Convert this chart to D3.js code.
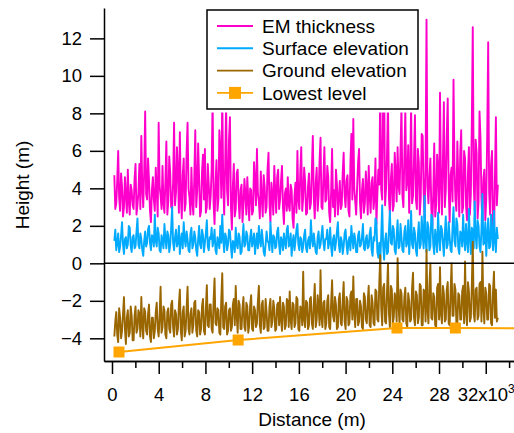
<!DOCTYPE html>
<meta charset="utf-8">
<style>
body { margin: 0; background: #fff; }
text { font-family: "Liberation Sans", Arial, sans-serif; font-size: 19px; fill: #000; }
.axis path, .axis line { stroke: #000; stroke-width: 1.5px; }
.axis text { font-size: 18.5px; }
</style>
<body>
<script src="https://d3js.org/d3.v7.min.js"></script>
<script>

// profile samples: first distance and spacing (m)
var distStart = 200, distStep = 82.5;

var emThickness = [
  4.7, 2.9, 3.2, 4.4, 6.0, 3.5, 2.8, 4.8, 4.1, 2.5, 3.0, 4.6, 3.6, 2.7, 5.0, 3.3, 2.6, 4.2, 3.9, 3.1,
  2.9, 4.5, 5.3, 2.6, 3.1, 3.8, 5.3, 2.9, 6.8, 4.0, 3.0, 4.9, 8.1, 3.7, 3.4, 5.6, 4.4, 2.8, 2.2, 3.9,
  4.6, 3.4, 2.8, 5.1, 3.9, 2.5, 7.5, 4.1, 3.6, 2.9, 5.2, 3.2, 2.7, 4.4, 6.5, 2.6, 3.3, 5.7, 4.8, 3.0,
  2.9, 4.3, 7.5, 3.1, 3.8, 6.2, 4.9, 2.7, 7.0, 3.6, 2.4, 4.7, 5.6, 2.8, 3.2, 5.9, 7.5, 4.0, 3.5, 2.6,
  5.1, 3.3, 2.6, 4.6, 7.1, 3.0, 3.9, 6.4, 4.5, 2.5, 2.8, 4.9, 5.8, 3.4, 6.1, 2.7, 3.0, 5.3, 4.2, 2.9,
  3.6, 5.0, 8.8, 3.2, 2.1, 4.2, 5.5, 2.8, 3.4, 7.1, 6.0, 3.5, 9.0, 4.4, 2.6, 5.2, 8.6, 3.9, 3.1, 6.6,
  7.8, 3.0, 1.8, 4.1, 5.3, 2.5, 2.9, 4.8, 5.0, 3.3, 2.4, 3.9, 4.2, 2.2, 3.1, 4.5, 3.7, 2.6, 4.6, 3.4,
  2.3, 4.0, 3.9, 2.6, 2.8, 5.4, 4.4, 3.1, 6.1, 3.7, 3.3, 2.4, 4.9, 3.5, 2.5, 4.7, 4.1, 2.7, 3.0, 5.0,
  5.9, 3.2, 2.2, 4.3, 3.6, 2.6, 5.2, 3.8, 2.7, 4.6, 5.0, 2.9, 3.4, 4.4, 5.2, 3.0, 2.1, 3.7, 4.0, 2.8,
  4.6, 3.1, 2.8, 4.2, 3.9, 2.4, 1.9, 3.6, 4.3, 2.7, 6.0, 3.4, 2.9, 4.9, 6.2, 2.8, 3.5, 5.1, 4.4, 2.6,
  2.7, 4.1, 4.8, 2.9, 3.2, 5.0, 6.8, 3.5, 2.4, 4.3, 5.1, 2.8, 3.6, 5.5, 6.7, 3.0, 2.9, 4.6, 6.2, 3.3,
  3.4, 5.2, 4.6, 2.7, 2.2, 3.8, 6.1, 3.0, 3.9, 2.5, 5.0, 4.2, 2.6, 3.5, 4.4, 2.9, 3.1, 4.8, 5.9, 3.6,
  3.0, 4.4, 4.7, 2.8, 2.5, 5.3, 6.9, 3.4, 7.7, 4.0, 3.3, 2.6, 4.1, 5.4, 6.1, 3.2, 2.4, 3.9, 4.5, 2.7,
  3.2, 4.9, 4.0, 2.6, 5.2, 3.6, 2.7, 4.3, 4.6, 2.9, 3.5, 5.6, 2.1, 3.7, 5.0, 4.2, 9.6, 3.9, 3.4, 8.9,
  9.9, 3.1, 4.0, 5.8, 8.7, 3.5, 2.6, 4.5, 5.3, 2.8, 3.1, 5.9, 4.8, 3.3, 6.2, 4.1, 3.7, 6.0, 8.4, 3.6,
  3.0, 5.7, 8.2, 3.9, 4.4, 6.3, 2.7, 4.6, 8.5, 3.2, 3.6, 5.5, 7.9, 3.4, 2.9, 6.1, 5.4, 2.6, 3.5, 6.9,
  6.8, 3.8, 2.4, 5.0, 13.0, 4.1, 3.2, 4.6, 5.6, 2.9, 2.0, 3.7, 6.4, 2.5, 3.1, 5.8, 4.9, 2.7, 9.1, 4.3,
  2.6, 5.4, 8.6, 3.0, 3.9, 6.8, 8.8, 4.0, 2.2, 4.7, 5.1, 3.3, 9.8, 5.2, 3.4, 2.8, 6.5, 4.4, 2.5, 5.9,
  7.1, 2.7, 3.0, 6.0, 5.6, 3.1, 2.3, 4.8, 6.2, 2.6, 3.7, 7.4, 12.6, 4.2, 2.8, 6.6, 5.9, 2.4, 3.3, 8.1,
  6.7, 3.5, 2.1, 4.5, 5.0, 2.3, 3.4, 6.9, 11.8, 3.8, 2.6, 5.3, 6.0, 2.0, 1.2, 4.6, 7.8, 3.1, 4.2
];

var surfaceElev = [
  1.2, 1.8, 0.7, 1.1, 1.6, 0.6, 0.9, 1.5, 2.2, 1.0, 0.5, 1.3, 1.4, 0.8, 1.0, 2.0, 1.9, 0.9, 0.6, 1.4,
  1.5, 0.8, 0.9, 1.7, 2.4, 1.0, 0.8, 1.6, 1.3, 0.7, 0.4, 1.2, 1.7, 0.9, 1.1, 1.8, 2.0, 1.1, 0.7, 1.5,
  1.4, 0.9, 2.6, 1.2, 0.9, 1.9, 1.6, 0.7, 0.6, 1.5, 1.2, 0.8, 2.1, 1.3, 0.8, 1.7, 1.5, 0.6, 1.0, 1.9,
  3.0, 1.1, 0.7, 1.4, 1.8, 0.9, 1.1, 2.0, 0.5, 1.2, 1.6, 0.8, 2.2, 1.3, 0.9, 1.7, 1.3, 0.7, 0.6, 1.6,
  1.9, 0.8, 1.0, 1.7, 1.4, 0.7, 0.4, 1.3, 2.0, 1.0, 0.8, 1.8, 1.5, 0.6, 1.1, 1.6, 2.3, 0.9, 0.7, 1.4,
  1.3, 1.9, 0.9, 1.2, 1.8, 0.7, 0.5, 1.4, 1.2, 0.8, 2.0, 1.1, 2.6, 1.3, 0.6, 1.6, 1.4, 0.7, 1.0, 1.8,
  1.7, 0.9, 0.3, 1.2, 1.1, 0.6, 1.9, 1.0, 0.8, 1.6, 1.4, 0.5, 0.6, 1.3, 2.1, 0.9, 1.0, 1.7, 1.5, 0.7,
  0.7, 1.4, 1.8, 0.9, 1.2, 1.6, 0.5, 1.1, 1.6, 0.8, 2.0, 1.2, 0.9, 1.8, 1.3, 0.6, 0.4, 1.0, 1.7, 1.2,
  1.1, 0.7, 2.2, 1.3, 0.6, 1.5, 1.4, 0.8, 0.9, 1.7, 1.9, 1.0, 0.5, 1.4, 1.2, 0.7, 1.6, 1.1, 0.8, 1.8,
  2.0, 0.9, 1.0, 1.6, 0.4, 1.1, 1.5, 0.7, 1.2, 1.8, 2.1, 1.0, 0.7, 1.4, 1.3, 0.6, 0.9, 1.5, 1.8, 0.8,
  0.6, 1.2, 1.4, 0.8, 2.3, 1.3, 0.9, 1.6, 1.1, 0.6, 0.5, 1.4, 1.7, 0.8, 1.0, 1.5, 2.0, 1.1, 0.7, 1.3,
  1.3, 1.8, 0.8, 1.1, 1.9, 0.9, 0.4, 1.3, 1.5, 0.7, 1.1, 1.7, 2.2, 1.0, 0.6, 1.4, 1.2, 0.5, 0.9, 1.6,
  1.8, 1.0, 0.5, 1.2, 1.4, 0.7, 2.0, 1.3, 0.8, 1.6, 1.3, 0.6, 0.6, 1.5, 1.7, 0.9, 1.0, 1.4, 2.1, 0.8,
  0.7, 1.3, 1.5, 0.8, 0.9, 1.6, 1.9, 0.7, 0.4, 1.4, 1.2, 2.4, 2.2, 0.6, 0.3, 1.1, 0.1, 1.5, 3.1, 0.9,
  0.2, 1.2, 1.6, 0.5, 0.6, 1.8, 2.8, 1.1, 1.0, 2.0, 1.8, 0.7, 0.5, 1.5, 2.3, 0.8, 0.9, 2.1, 1.4, 0.7,
  0.6, 1.7, 2.0, 0.9, 1.1, 2.3, 0.5, 1.4, 2.8, 1.0, 0.8, 1.9, 1.6, 0.7, 0.4, 1.5, 2.2, 0.8, 1.0, 2.5,
  1.5, 0.8, 3.6, 1.2, 0.6, 2.2, 1.9, 0.7, 0.9, 2.6, 2.4, 1.0, 0.5, 1.8, 1.3, 0.6, 2.7, 1.4, 0.7, 2.0,
  1.8, 1.1, 0.4, 1.6, 2.5, 0.8, 1.0, 2.2, 1.4, 0.7, 0.6, 1.9, 3.0, 1.2, 0.9, 2.4, 2.1, 0.8, 0.5, 1.7,
  1.6, 0.9, 2.6, 1.3, 0.7, 2.1, 1.2, 0.6, 2.9, 1.4, 0.5, 1.9, 1.7, 0.8, 3.3, 1.5, 0.8, 2.3, 2.0, 0.9,
  0.6, 1.8, 3.7, 1.0, 1.1, 2.2, 0.4, 1.5, 2.4, 0.8, 0.9, 2.6, 1.5, 0.7, 2.8, 1.2, 0.6, 1.9, 1.3
];

var groundElev = [
  -3.9, -3.1, -2.6, -3.8, -4.2, -2.4, -2.9, -4.0, -3.6, -2.7, -1.8, -3.5, -4.3, -2.9, -2.5, -3.9, -3.7, -2.3, -2.8, -4.1,
  -4.1, -2.8, -2.3, -3.7, -3.5, -2.5, -2.7, -3.9, -1.8, -3.3, -4.0, -2.4, -2.6, -3.6, -3.8, -2.7, -2.2, -3.9, -4.2, -2.9,
  -2.9, -4.0, -3.6, -2.6, -2.1, -3.5, -3.9, -2.8, -1.25, -3.7, -3.4, -2.3, -2.5, -3.8, -4.0, -2.6, -2.4, -3.5, -3.7, -2.2,
  -2.0, -3.4, -3.9, -2.5, -2.7, -3.8, -3.5, -2.2, -1.4, -3.6, -4.1, -2.6, -2.3, -3.9, -3.6, -2.4, -1.25, -3.5, -3.8, -2.7,
  -2.4, -3.7, -3.3, -2.1, -2.0, -3.6, -3.9, -2.5, -2.6, -3.8, -3.5, -2.3, -1.9, -3.6, -3.8, -2.4, -1.16, -3.3, -3.4, -2.2,
  -2.2, -3.5, -3.7, -2.0, -0.8, -3.2, -3.3, -2.4, -2.5, -3.7, -3.8, -1.9, -0.53, -3.4, -3.5, -2.3, -2.1, -3.8, -3.6, -2.5,
  -2.4, -3.6, -3.4, -2.2, -1.9, -3.3, -1.2, -2.8, -3.7, -2.0, -2.2, -3.5, -3.5, -2.4, -1.8, -3.4, -3.6, -2.1, -2.3, -3.7,
  -3.3, -2.2, -1.7, -3.5, -3.6, -2.3, -2.5, -3.4, -3.2, -2.0, -1.2, -3.3, -3.7, -2.2, -2.0, -3.5, -3.4, -1.9, -2.6, -3.6,
  -3.6, -2.3, -1.9, -3.4, -3.1, -2.0, -2.4, -3.6, -3.5, -2.2, -2.1, -3.3, -1.8, -3.0, -3.6, -2.1, -2.3, -3.5, -3.3, -1.9,
  -2.0, -3.4, -1.5, -3.0, -3.5, -2.1, -2.2, -3.4, -3.2, -1.8, -1.9, -3.5, -3.6, -2.3, -2.4, -3.3, -0.45, -3.0, -3.4, -2.0,
  -2.1, -3.5, -3.3, -1.9, -1.8, -3.2, -3.5, -2.2, -1.1, -3.4, -3.0, -1.7, -2.3, -3.3, -0.36, -2.9, -3.4, -2.1, -2.0, -3.5,
  -3.2, -2.0, -1.7, -3.4, -3.5, -2.1, -0.9, -2.8, -3.1, -1.8, -2.2, -3.5, -3.4, -1.9, -1.6, -3.2, -3.3, -2.0, -1.0, -3.1,
  -3.5, -1.8, -2.0, -3.3, -3.2, -1.7, -1.5, -3.0, -0.7, -2.6, -3.4, -1.9, -1.9, -3.3, -3.1, -2.0, -2.3, -3.4, -3.5, -1.6,
  -1.8, -3.0, -3.2, -2.0, -1.2, -3.3, -3.4, -1.7, -2.1, -3.2, -3.3, -1.4, -1.5, -3.0, -3.1, -1.0, 0.44, -2.4, -3.3, -1.3,
  -1.1, -3.1, -3.2, -1.5, 0.0, -2.7, -3.4, -1.2, -1.4, -3.2, -2.9, -1.6, -1.9, -3.1, 0.27, -2.2, -3.3, -1.4, -1.6, -3.0,
  -3.1, -1.8, -1.3, -3.2, -3.4, -1.6, -2.0, -3.1, -3.0, -1.3, -0.5, -2.9, -3.3, -1.5, -1.7, -3.2, -2.9, -1.1, -1.2, -3.3,
  -3.3, -1.4, -1.5, -3.1, 0.71, -2.5, -3.2, -1.2, 0.0, -2.9, -3.0, -1.6, -1.8, -3.3, -3.4, -1.3, -1.1, -3.0, -0.2, -2.7,
  -3.2, -1.2, -1.6, -3.1, -3.0, -1.4, -1.0, -3.2, -3.3, -1.5, 0.0, -2.8, -2.8, -1.1, -1.4, -3.2, -3.2, -1.6, -1.7, -3.0,
  -3.0, -1.5, -1.2, -3.2, 0.1, -2.6, -3.3, -1.0, -1.5, -3.1, -2.9, -1.2, 1.15, -2.7, -3.1, -1.4, -1.3, -3.0, -2.8, -1.1,
  -1.0, -3.1, 0.62, -2.4, -3.2, -1.3, -1.6, -3.0, -3.0, -1.1, -1.2, -3.2, -3.3, -1.5, -0.45, -2.9, -1.4, -3.1, -2.9
];

// lowest level picks (distance m, height m)
var lowestDist = [600, 10800, 24400, 29400, 36000];
var lowestLevel = [-4.73, -4.09, -3.45, -3.45, -3.47];

var seriesNames = ["EM thickness", "Surface elevation", "Ground elevation", "Lowest level"];
var seriesColors = ["#ff00cc", "#00aaff", "#996600", "#ffa500"];

var xMajor = [0, 4000, 8000, 12000, 16000, 20000, 24000, 28000, 32000];
var xMinor = [2000, 6000, 10000, 14000, 18000, 22000, 26000, 30000, 34000];
var xLabels = ["0", "4", "8", "12", "16", "20", "24", "28", "32x10"];
var yTicks = [-4, -2, 0, 2, 4, 6, 8, 10, 12];

// plot box (window.top is reserved, so prefix names)
var plotLeft = 104, plotRight = 514, plotTop = 8, plotBottom = 361;

var svg = d3.select("body").append("svg")
    .attr("width", 514)
    .attr("height", 433);

var x = d3.scaleLinear().domain([-685, 34420]).range([plotLeft, plotRight]);
var y = d3.scaleLinear().domain([-5.21, 13.62]).range([plotBottom, plotTop]);

function lineOf(vals) {
  return d3.line()
    .x(function(d, i) { return x(distStart + i * distStep); })
    .y(function(d) { return y(d); })(vals);
}

// the three profiles
[emThickness, surfaceElev, groundElev].forEach(function(vals, k) {
  svg.append("path")
    .attr("d", lineOf(vals))
    .attr("fill", "none")
    .attr("stroke", seriesColors[k])
    .attr("stroke-width", 1.9)
    .attr("stroke-linejoin", "round");
});

// lowest level with square markers
var low = lowestDist.map(function(d, i) { return [d, lowestLevel[i]]; });
svg.append("path")
  .attr("d", d3.line().x(function(d) { return x(d[0]); }).y(function(d) { return y(d[1]); })(low))
  .attr("fill", "none")
  .attr("stroke", seriesColors[3])
  .attr("stroke-width", 2);
svg.selectAll(".mark").data(low).enter().append("rect")
  .attr("class", "mark")
  .attr("x", function(d) { return x(d[0]) - 5.5; })
  .attr("y", function(d) { return y(d[1]) - 5.5; })
  .attr("width", 11).attr("height", 11)
  .attr("fill", seriesColors[3]);

// zero line
svg.append("line")
  .attr("x1", plotLeft).attr("x2", plotRight)
  .attr("y1", y(0)).attr("y2", y(0))
  .attr("stroke", "#000").attr("stroke-width", 1.5);

// y axis
svg.append("g")
  .attr("class", "axis")
  .attr("transform", "translate(" + plotLeft + ",0)")
  .call(d3.axisLeft(y).tickValues(yTicks).tickSize(14).tickSizeOuter(0).tickPadding(8));

// x axis, minor then major
svg.append("g")
  .attr("class", "axis")
  .attr("transform", "translate(0," + plotBottom + ")")
  .call(d3.axisBottom(x).tickValues(xMinor).tickSize(7).tickSizeOuter(0).tickFormat(""));

var xg = svg.append("g")
  .attr("class", "axis")
  .attr("transform", "translate(0," + plotBottom + ")")
  .call(d3.axisBottom(x).tickValues(xMajor).tickSize(13).tickSizeOuter(0).tickPadding(14)
    .tickFormat(function(d, i) { return xLabels[i]; }));
xg.selectAll(".tick:last-of-type text").append("tspan")
  .attr("dy", -8)
  .style("font-size", "12px")
  .text("3");
svg.selectAll(".axis").attr("font-family", null).attr("font-size", null);

// axis titles
svg.append("text")
  .attr("transform", "translate(29,185) rotate(-90)")
  .attr("text-anchor", "middle")
  .text("Height (m)");
svg.append("text")
  .attr("x", 312).attr("y", 426)
  .attr("text-anchor", "middle")
  .text("Distance (m)");

// legend, with a white margin that hides the traces under it
var lg = svg.append("g");
lg.append("rect")
  .attr("x", 203.5).attr("y", 6.5).attr("width", 218).attr("height", 106)
  .attr("fill", "#fff");
lg.append("rect")
  .attr("x", 207).attr("y", 10).attr("width", 211).attr("height", 99)
  .attr("fill", "#fff").attr("stroke", "#000").attr("stroke-width", 1.5);
var rows = lg.selectAll(".row").data(seriesNames).enter().append("g")
  .attr("class", "row")
  .attr("transform", function(d, i) { return "translate(0," + (26 + i * 22.3) + ")"; });
rows.append("line")
  .attr("x1", 217).attr("x2", 253)
  .attr("stroke", function(d, i) { return seriesColors[i]; })
  .attr("stroke-width", 1.9);
rows.filter(function(d, i) { return i === 3; }).append("rect")
  .attr("x", 229).attr("y", -6).attr("width", 12).attr("height", 12)
  .attr("fill", seriesColors[3]);
rows.append("text")
  .attr("x", 262).attr("dy", "0.35em")
  .text(function(d) { return d; });

</script>
</body>
